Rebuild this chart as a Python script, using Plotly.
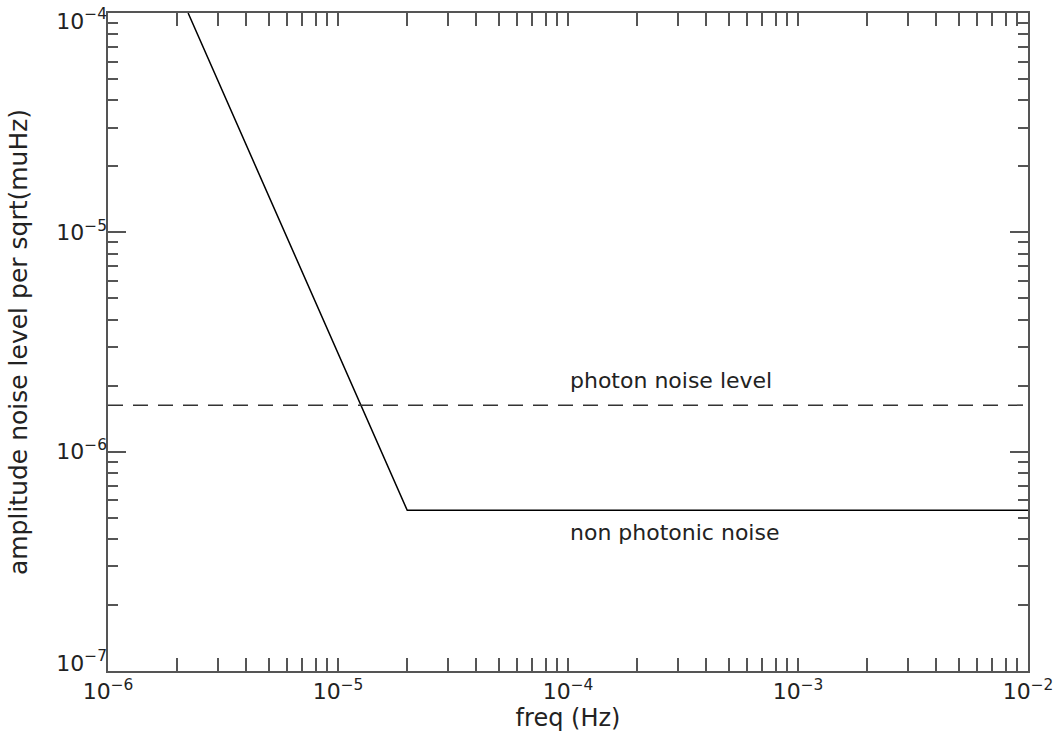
import math
import plotly.graph_objects as go

# data
noise_freq = [2.23e-6, 2.0e-5, 1.0e-2]
noise_level = [1.0e-4, 5.4e-7, 5.4e-7]
photon_freq = [1.0e-6, 1.0e-2]
photon_level = [1.63e-6, 1.63e-6]
x_tickvals = [1e-6, 1e-5, 1e-4, 1e-3, 1e-2]
x_ticktext = ["10<sup>−6</sup>", "10<sup>−5</sup>", "10<sup>−4</sup>", "10<sup>−3</sup>", "10<sup>−2</sup>"]
y_tickvals = [1e-7, 1e-6, 1e-5, 1e-4]
y_ticktext = ["10<sup>−7</sup>", "10<sup>−6</sup>", "10<sup>−5</sup>", "10<sup>−4</sup>"]
annotations_text = ["photon noise level", "non photonic noise"]
annotations_x = [1.0e-4, 1.0e-4]
annotations_y = [2.12e-6, 4.3e-7]

FONT = "DejaVu Sans"
AX = "#555555"
TXT = "#222222"
YRANGE = [math.log10(y_tickvals[0]), math.log10(y_tickvals[-1])]
XRANGE = [math.log10(x_tickvals[0]), math.log10(x_tickvals[-1])]

fig = go.Figure()
fig.add_trace(go.Scatter(x=noise_freq, y=noise_level, mode="lines",
                         line=dict(color="black", width=1.5), showlegend=False))
fig.add_trace(go.Scatter(x=photon_freq, y=photon_level, mode="lines",
                         line=dict(color="#333333", width=1.5, dash="15px,10px"), showlegend=False))
# invisible traces anchoring the overlay axes that carry the tick labels
for ax, yv in (("y2", y_tickvals[-1]), ("y3", y_tickvals[0]), ("y4", y_tickvals[1])):
    fig.add_trace(go.Scatter(x=[x_tickvals[0]], y=[yv], yaxis=ax, mode="markers",
                             marker=dict(opacity=0), hoverinfo="skip", showlegend=False))

for t, x, y in zip(annotations_text, annotations_x, annotations_y):
    fig.add_annotation(x=math.log10(x), y=math.log10(y), text=t,
                       showarrow=False, xanchor="left", yanchor="middle",
                       font=dict(family=FONT, size=22, color=TXT))

fig.update_xaxes(type="log", range=XRANGE, tickvals=x_tickvals, ticktext=x_ticktext,
                 ticks="inside", ticklen=13, tickcolor=AX, tickwidth=1.5,
                 showline=True, linecolor=AX, linewidth=2, mirror="allticks",
                 showgrid=False, zeroline=False, automargin=False,
                 ticklabeloverflow="allow",
                 minor=dict(ticks="inside", ticklen=7, tickcolor=AX, tickwidth=1.5,
                            dtick="D1", showgrid=False),
                 tickfont=dict(family=FONT, size=22, color=TXT),
                 title=dict(text="freq (Hz)", font=dict(family=FONT, size=24, color=TXT), standoff=4))

fig.update_layout(
    yaxis=dict(type="log", range=YRANGE, tickvals=y_tickvals, showticklabels=False,
               ticks="inside", ticklen=18, tickcolor=AX, tickwidth=1.5,
               showline=True, linecolor=AX, linewidth=2, mirror="allticks",
               showgrid=False, zeroline=False, automargin=False,
               minor=dict(ticks="inside", ticklen=10, tickcolor=AX, tickwidth=1.5,
                          dtick="D1", showgrid=False)),
)
# label layer: middle labels unshifted, end labels shifted inward like the reference
common = dict(type="log", range=YRANGE, overlaying="y", side="left", showline=False,
              ticks="inside", ticklen=18, tickcolor="rgba(0,0,0,0)",
              showgrid=False, zeroline=False, automargin=False,
              ticklabeloverflow="allow", tickfont=dict(family=FONT, size=22, color=TXT))
fig.update_layout(
    yaxis2=dict(tickvals=[y_tickvals[-1]], ticktext=[y_ticktext[-1]], ticklabelshift=8, **common),
    yaxis3=dict(tickvals=[y_tickvals[0]], ticktext=[y_ticktext[0]], ticklabelshift=-8, **common),
    yaxis4=dict(tickvals=y_tickvals[1:-1], ticktext=y_ticktext[1:-1],
                title=dict(text="amplitude noise level per sqrt(muHz)",
                           font=dict(family=FONT, size=25, color=TXT), standoff=21),
                **common),
)

fig.update_layout(width=1057, height=740, margin=dict(l=108, r=29, t=13, b=69),
                  plot_bgcolor="white", paper_bgcolor="white")
fig.write_html("out.html", config={"displayModeBar": False},
               post_script="document.body.style.margin='0';document.body.style.overflow='hidden';")
